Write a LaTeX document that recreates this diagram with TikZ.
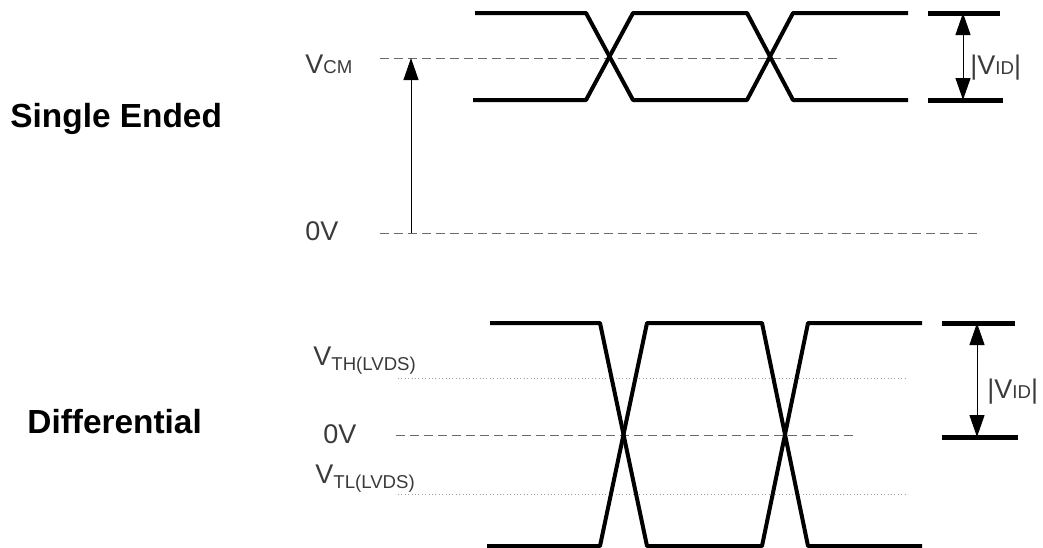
\documentclass[tikz,border=0pt]{standalone}
\usepackage{fontspec}
\setmainfont{Liberation Sans}
\usetikzlibrary{arrows.meta}
\definecolor{labelgray}{HTML}{3A3A3A}
\definecolor{refgray}{HTML}{6A6A66}
\definecolor{dotgray}{HTML}{A09AA8}
\newcommand{\lvsub}[1]{{\fontsize{9.3}{10}\selectfont #1}}
\begin{document}
\begin{tikzpicture}[x=0.5pt,y=-0.5pt,
	wave/.style={line width=2pt, line join=round},
	refline/.style={refgray, line width=0.5pt, dash pattern=on 4.5pt off 2.5pt},
	thline/.style={dotgray, line width=0.5pt, dash pattern=on 0.5pt off 1.2pt},
	bar/.style={line width=2.5pt},
	dimarrow/.style={line width=0.5pt, -{Triangle[length=11pt,width=7.5pt]}},
	dimboth/.style={line width=0.5pt, {Triangle[length=11pt,width=7.5pt]}-{Triangle[length=11pt,width=7.5pt]}},
	lbl/.style={anchor=base west, inner sep=0pt, labelgray, font=\fontsize{13.5}{15}\selectfont},
	title/.style={anchor=base west, inner sep=0pt, font=\fontsize{16.7}{19}\selectfont\bfseries}]
	\useasboundingbox (0,0) rectangle (1043,547);

	\node [title] (single) at (10,127) {Single Ended};
	\node [title] (diff) at (27,433) {Differential};

	\draw [refline] (380,58) -- (840,58);
	\draw [refline] (380,233) -- (978,233);
	\draw [wave] (475,13) -- (586,13) -- (633,100) -- (747,100) -- (793,13) -- (908,13);
	\draw [wave] (473,100) -- (586,100) -- (633,13) -- (747,13) -- (793,100) -- (908,100);

	\coordinate (zero) at (411,233);
	\coordinate (cm) at (411,58);
	\draw [dimarrow] (zero) -- (cm);
	\node [lbl] (vcm) at (305,73) {V\lvsub{CM}};
	\node [lbl] (zerotop) at (305,240) {0V};

	\draw [bar] (928,13) -- (1000,13);
	\draw [bar] (928,100) -- (1003,100);
	\coordinate (idhi) at (963,13);
	\coordinate (idlo) at (963,100);
	\draw [dimboth] (idhi) -- (idlo);
	\node [lbl] (vidtop) at (970,74) {|V\lvsub{ID}|};

	\draw [thline] (398,378) -- (907,378);
	\draw [thline] (398,494) -- (905,494);
	\draw [refline] (396,435) -- (855,435);
	\draw [wave] (490,323) -- (600,323) -- (647,546) -- (762,546) -- (808,323) -- (922,323);
	\draw [wave] (487,546) -- (600,546) -- (647,323) -- (762,323) -- (808,546) -- (922,546);

	\node [lbl] (vth) at (313,365) {V\raisebox{-2.5pt}{\lvsub{TH(LVDS)}}};
	\node [lbl] (zerobot) at (323,443) {0V};
	\node [lbl] (vtl) at (315,483) {V\raisebox{-2.5pt}{\lvsub{TL(LVDS)}}};

	\draw [bar] (942,323) -- (1015,323);
	\draw [bar] (942,437) -- (1018,437);
	\coordinate (dhi) at (977,323);
	\coordinate (dlo) at (977,437);
	\draw [dimboth] (dhi) -- (dlo);
	\node [lbl] (vidbot) at (987,398) {|V\lvsub{ID}|};
\end{tikzpicture}
\end{document}
